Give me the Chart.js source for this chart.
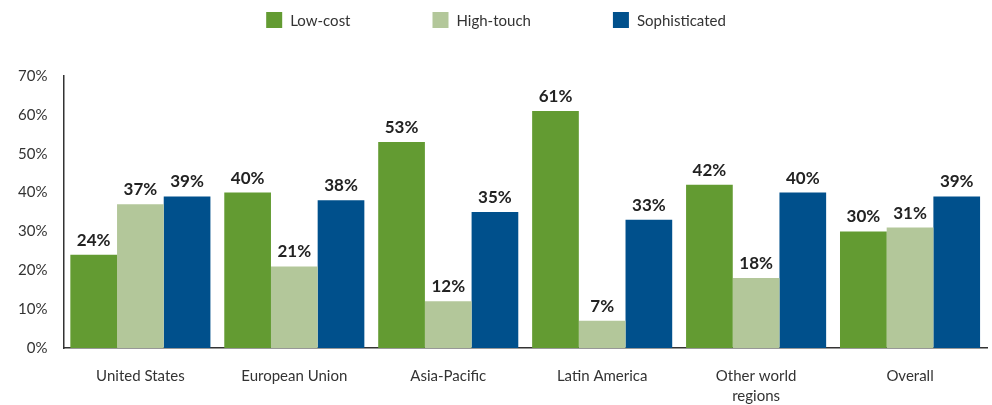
<!DOCTYPE html>
<html>
<head>
<meta charset="utf-8">
<script src="https://cdn.jsdelivr.net/npm/chart.js@4.4.0/dist/chart.umd.min.js"></script>
<style>
  html, body { margin: 0; padding: 0; background: #fff; }
  #wrap { width: 992px; height: 405px; position: relative; }
</style>
</head>
<body>
<div id="wrap"><canvas id="regionChart"></canvas></div>
<script>
var categories = ['United States', 'European Union', 'Asia-Pacific', 'Latin America', ['Other world', 'regions'], 'Overall'];
var lowCost = [24, 40, 53, 61, 42, 30];
var highTouch = [37, 21, 12, 7, 18, 31];
var sophisticated = [39, 38, 35, 33, 40, 39];
var yTicks = [0, 10, 20, 30, 40, 50, 60, 70];

var fontFamily = "Lato, 'Open Sans', sans-serif";

// draws the bold % label above each bar
var barLabels = {
  id: 'barLabels',
  afterDatasetsDraw: function (chart) {
    var ctx = chart.ctx;
    ctx.save();
    ctx.font = 'bold 17px ' + fontFamily;
    ctx.fillStyle = '#222';
    ctx.textAlign = 'center';
    ctx.textBaseline = 'bottom';
    chart.data.datasets.forEach(function (ds, i) {
      chart.getDatasetMeta(i).data.forEach(function (bar, j) {
        ctx.fillText(ds.data[j] + '%', bar.x, bar.y - 6);
      });
    });
    ctx.restore();
  }
};

// legend row at the very top, items spread wide apart
var topLegend = {
  id: 'topLegend',
  afterDraw: function (chart) {
    var ctx = chart.ctx;
    var box = 16, gap = 8, spacing = 82, y = 20;
    ctx.save();
    ctx.font = '15px ' + fontFamily;
    ctx.textBaseline = 'middle';
    var items = chart.data.datasets.map(function (ds) {
      return { text: ds.label, color: ds.backgroundColor, w: box + gap + ctx.measureText(ds.label).width };
    });
    var total = items.reduce(function (s, it) { return s + it.w; }, 0) + spacing * (items.length - 1);
    var x = (chart.width - total) / 2;
    items.forEach(function (it) {
      ctx.fillStyle = it.color;
      ctx.fillRect(x, y - box / 2, box, box);
      ctx.fillStyle = '#333';
      ctx.fillText(it.text, x + box + gap, y + 1);
      x += it.w + spacing;
    });
    ctx.restore();
  }
};

var ctx = document.getElementById('regionChart').getContext('2d');
var regionChart = new Chart(ctx, {
  type: 'bar',
  data: {
    labels: categories,
    datasets: [{
      label: 'Low-cost',
      data: lowCost,
      backgroundColor: '#639b32'
    }, {
      label: 'High-touch',
      data: highTouch,
      backgroundColor: '#b3c79a'
    }, {
      label: 'Sophisticated',
      data: sophisticated,
      backgroundColor: '#00508c'
    }]
  },
  options: {
    responsive: true,
    maintainAspectRatio: false,
    animation: false,
    layout: { padding: { top: 76, right: 5, bottom: 0, left: 2 } },
    datasets: {
      bar: { categoryPercentage: 0.91, barPercentage: 1.0 }
    },
    plugins: {
      tooltip: { enabled: false },
      legend: { display: false }
    },
    scales: {
      x: {
        grid: { display: false, drawTicks: false },
        border: { display: true, color: '#333', width: 1.5 },
        afterFit: function (axis) { axis.height = 57; },
        ticks: {
          color: '#333',
          padding: 18,
          font: { family: fontFamily, size: 15, lineHeight: 1.33 }
        }
      },
      y: {
        min: 0,
        max: 70,
        afterBuildTicks: function (axis) {
          axis.ticks = yTicks.map(function (v) { return { value: v }; });
        },
        grid: { display: false, drawTicks: false },
        border: { display: true, color: '#333', width: 1.5 },
        ticks: {
          color: '#333',
          padding: 16,
          font: { family: fontFamily, size: 15 },
          callback: function (v) { return v + '%'; }
        }
      }
    }
  },
  plugins: [barLabels, topLegend]
});
</script>
</body>
</html>
